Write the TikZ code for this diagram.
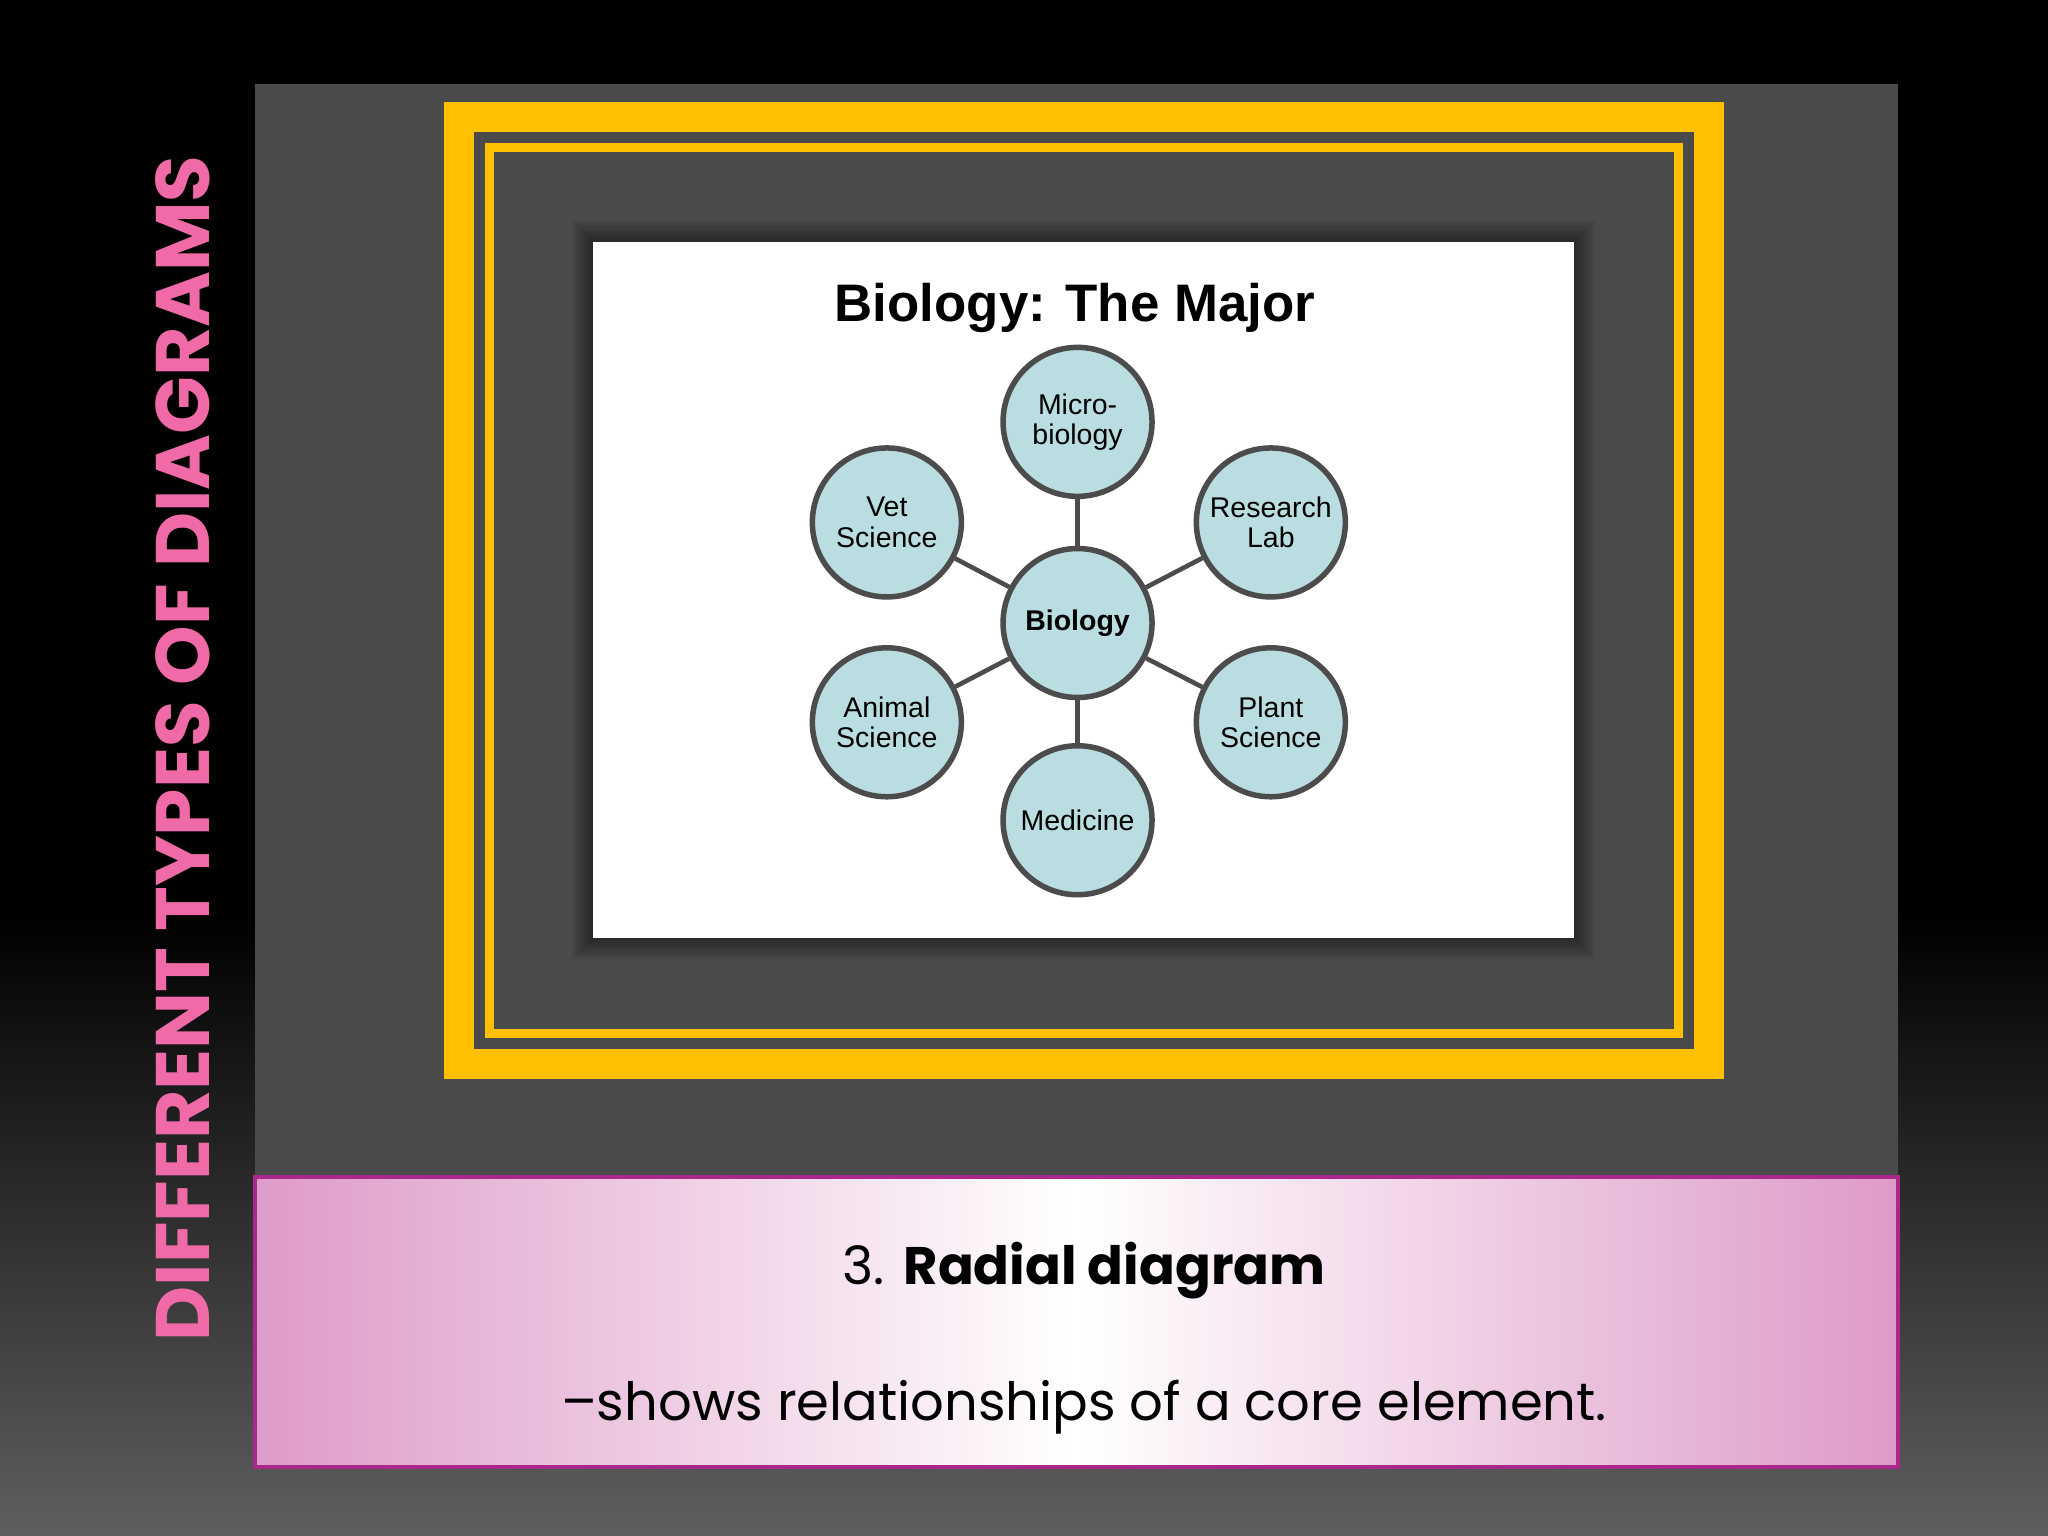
\documentclass[tikz,border=0pt]{standalone}
\usepackage{fontspec}
\setmainfont{Poppins}
\newfontfamily\arialf{Liberation Sans}
\definecolor{panel}{RGB}{74,74,74}
\definecolor{gold}{RGB}{255,192,0}
\definecolor{bubfill}{RGB}{185,221,224}
\definecolor{pinkedge}{RGB}{222,155,200}
\definecolor{pinkline}{RGB}{170,40,140}
\definecolor{sidepink}{RGB}{240,106,168}
\definecolor{bottomgray}{RGB}{95,95,95}
\begin{document}
\begin{tikzpicture}[x=0.01cm,y=-0.01cm,
  bub/.style={circle,draw=black!70,line width=1.2pt,fill=bubfill,minimum size=1.14cm,inner sep=0pt,align=center,font=\arialf\fontsize{6.2}{6.6}\selectfont},
  spoke/.style={draw=black!70,line width=1pt}]
\useasboundingbox (0,0) rectangle (1568,1176);
\fill[black] (0,0) rectangle (1568,701);
\shade[top color=black,bottom color=bottomgray] (0,700) rectangle (1568,1176);
\fill[panel] (195,64) rectangle (1453,900);
\fill[gold] (340,78) rectangle (1320,826);
\fill[panel] (363,101) rectangle (1297,803);
\draw[gold,line width=2pt] (375,113) rectangle (1285,791);
\foreach \i in {1,...,8} \fill[black,opacity=0.06] (454-2*\i,185-2*\i) rectangle (1205+2*\i,718+2*\i);
\fill[white] (454,185) rectangle (1205,718);
\node[font=\arialf\bfseries\fontsize{11.5}{12}\selectfont] (title) at (823,236) {Biology: The Major};
\node[bub,font=\arialf\bfseries\fontsize{6.2}{6.6}\selectfont] (c) at (825,477) {Biology};
\node[bub] (m) at (825,323) {Micro-\\biology};
\node[bub] (v) at (679,400) {Vet\\Science};
\node[bub] (r) at (973,400) {Research\\Lab};
\node[bub] (a) at (679,553) {Animal\\Science};
\node[bub] (p) at (973,553) {Plant\\Science};
\node[bub] (d) at (825,628) {Medicine};
\foreach \n in {m,v,r,a,p,d} \draw[spoke] (c) -- (\n);
\shade[left color=pinkedge,right color=pinkedge,middle color=white] (195,901) rectangle (1453,1123);
\draw[pinkline,line width=0.8pt] (195,901) rectangle (1453,1123);
\node[font=\fontsize{11.5}{12}\selectfont] (t1) at (830,973) {3. \textbf{Radial diagram}};
\node[font=\fontsize{11.5}{12}\selectfont] (t2) at (830,1077) {–shows relationships of a core element.};
\node[rotate=90,font=\bfseries\fontsize{16.5}{17}\selectfont,text=sidepink] (side) at (140,573) {DIFFERENT TYPES OF DIAGRAMS};
\end{tikzpicture}
\end{document}
